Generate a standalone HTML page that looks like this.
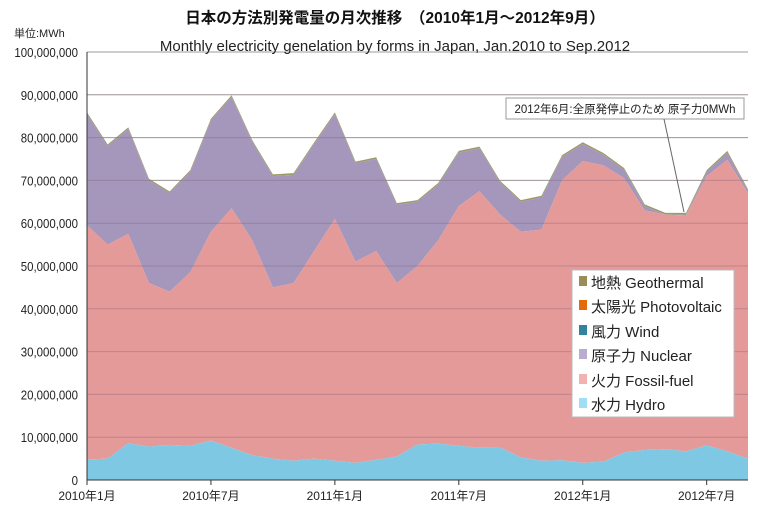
<!DOCTYPE html>
<html><head><meta charset="utf-8"><style>
body{margin:0;background:#fff;}
svg text{font-family:"Liberation Sans","Noto Sans CJK JP",sans-serif;}
</style></head><body>
<svg width="783" height="512" viewBox="0 0 783 512" xmlns="http://www.w3.org/2000/svg">
<rect width="783" height="512" fill="#fff"/>
<g id="grid" stroke="#b8b8b8" stroke-width="1"></g>
<g id="areas"></g>
<g id="ylab" font-size="13" fill="#222" text-anchor="end" transform="scale(0.88,1)"></g>
<g id="xlab" font-size="12" fill="#222" text-anchor="middle"></g>
<line x1="87" y1="52" x2="87" y2="480" stroke="#333"/>
<line x1="87" y1="480" x2="748" y2="480" stroke="#333"/>
<text x="395" y="23" font-size="15.5" font-weight="bold" text-anchor="middle" fill="#111">日本の方法別発電量の月次推移　（2010年1月～2012年9月）</text>
<text x="395" y="51" font-size="15" text-anchor="middle" fill="#222">Monthly electricity genelation by forms in Japan, Jan.2010 to Sep.2012</text>
<text x="14" y="37" font-size="11" fill="#222">単位:MWh</text>
<rect x="506" y="98" width="238" height="21" fill="#fff" stroke="#999"/>
<text x="625" y="113" font-size="11.5" text-anchor="middle" fill="#222">2012年6月:全原発停止のため 原子力0MWh</text>
<line x1="664" y1="119" x2="684" y2="212" stroke="#666"/>
<rect x="572" y="270" width="162" height="147" fill="#fff" stroke="#bbb"/>
<g font-size="15" fill="#222">
<rect x="579" y="276" width="8" height="10" fill="#9c8c5a"/><text x="591" y="288">地熱 Geothermal</text>
<rect x="579" y="300" width="8" height="10" fill="#e36c0a"/><text x="591" y="312">太陽光 Photovoltaic</text>
<rect x="579" y="325" width="8" height="10" fill="#31849b"/><text x="591" y="337">風力 Wind</text>
<rect x="579" y="349" width="8" height="10" fill="#b9acd0"/><text x="591" y="361">原子力 Nuclear</text>
<rect x="579" y="374" width="8" height="10" fill="#f2b2b2"/><text x="591" y="386">火力 Fossil-fuel</text>
<rect x="579" y="398" width="8" height="10" fill="#9fdff5"/><text x="591" y="410">水力 Hydro</text>
</g>
</svg>
<script>
var tot=[85.5,78,82,70,67,72,84,89.5,79,71,71.3,78.5,85.5,74,75,64.3,65,69,76.5,77.5,69.5,65,66,75.5,78.5,76,72.5,64,62,62,72,76.5,67.5];
var fos=[59.5,55,57.5,46,44,48.5,58,63.5,56,45,46,53.5,61,51,53.5,46,50,56,64,67.5,62,58,58.5,70,74.5,73.5,70.5,63,62,61.8,71,74.8,67];
var hyd=[4.8,5,8.6,7.8,8.2,8,9.2,7.5,5.8,5,4.5,5,4.5,4,4.7,5.5,8.3,8.5,8,7.5,7.6,5.3,4.5,4.6,4,4.3,6.4,7,7.2,6.7,8.1,6.7,5];
function X(i){return 87+i*20.656;}function Y(v){return 480-v*4.28;}
var ns="http://www.w3.org/2000/svg";
function poly(top,bot,col){var p=[];for(var i=0;i<top.length;i++)p.push(X(i)+","+Y(top[i]));for(var i=top.length-1;i>=0;i--)p.push(X(i)+","+Y(bot?bot[i]:0));var e=document.createElementNS(ns,"polygon");e.setAttribute("points",p.join(" "));e.setAttribute("fill",col);document.getElementById("areas").appendChild(e);}
var g=document.getElementById("grid");
for(var k=1;k<=10;k++){var l=document.createElementNS(ns,"line");l.setAttribute("x1",87);l.setAttribute("x2",748);l.setAttribute("y1",Y(k*10));l.setAttribute("y2",Y(k*10));g.appendChild(l);}
var geo=tot.map(function(v){return v+0.4;});
poly(geo,tot,"#9c9a6a");
poly(tot,fos,"#a597bb");
poly(fos,hyd,"#e59a9a");
poly(hyd,null,"#7ec8e3");
var a=document.getElementById("areas");
for(var k=1;k<=10;k++){var l=document.createElementNS(ns,"line");l.setAttribute("x1",87);l.setAttribute("x2",748);l.setAttribute("y1",Y(k*10));l.setAttribute("y2",Y(k*10));l.setAttribute("stroke","rgba(120,90,110,0.35)");a.appendChild(l);}
var yl=document.getElementById("ylab");
for(var k=0;k<=10;k++){var t=document.createElementNS(ns,"text");t.setAttribute("x",78/0.88);t.setAttribute("y",Y(k*10)+5);t.textContent=k==0?"0":(k*10000000).toLocaleString("en-US");yl.appendChild(t);}
var xl=document.getElementById("xlab"),labs=["2010年1月","2010年7月","2011年1月","2011年7月","2012年1月","2012年7月"];
for(var k=0;k<6;k++){var t=document.createElementNS(ns,"text");t.setAttribute("x",X(k*6));t.setAttribute("y",500);t.textContent=labs[k];xl.appendChild(t);var m=document.createElementNS(ns,"line");m.setAttribute("x1",X(k*6));m.setAttribute("x2",X(k*6));m.setAttribute("y1",480);m.setAttribute("y2",485);m.setAttribute("stroke","#333");xl.appendChild(m);}
</script>
</body></html>
